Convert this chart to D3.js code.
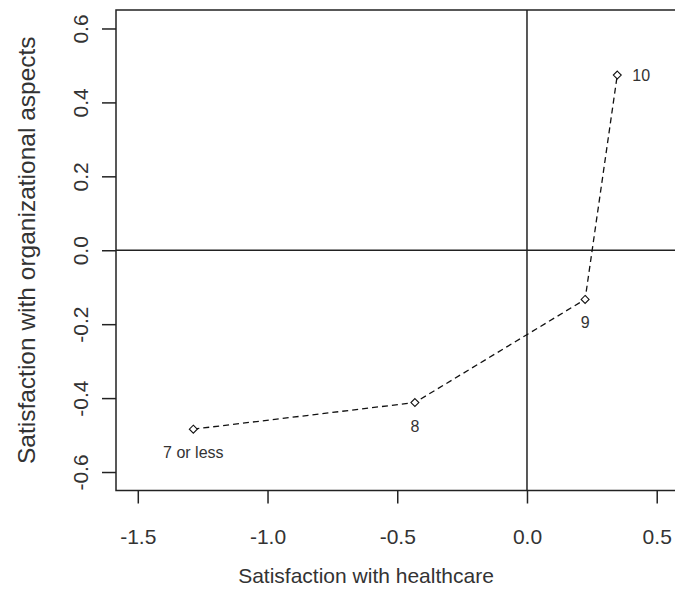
<!doctype html>
<html lang="en">

<head>
    <meta charset="utf-8">
    <title>satisfaction plot</title>
    <script src="https://cdn.jsdelivr.net/npm/d3@7"></script>
    <style>
        body { margin: 0; background: #fff; }
        svg { display: block; }
        text { font-family: "Liberation Sans", Arial, sans-serif; fill: #333; }
    </style>
</head>

<body>
    <svg></svg>
    <script>
        var width = 675;
        var height = 602;

        // data
        var labels = ["7 or less", "8", "9", "10"];
        var healthcare = [-1.286, -0.432, 0.224, 0.348];
        var organizational = [-0.484, -0.412, -0.133, 0.474];
        var labelPos = ["below", "below", "below", "right"];

        var xTicks = [-1.5, -1.0, -0.5, 0.0, 0.5];
        var yTicks = [-0.6, -0.4, -0.2, 0.0, 0.2, 0.4, 0.6];

        var dataset = labels.map(function (d, i) {
            return { label: d, x: healthcare[i], y: organizational[i], pos: labelPos[i] };
        });

        // plot box (right side runs off the picture)
        var boxL = 116, boxR = 685, boxT = 10, boxB = 490.5;

        var svg = d3.select('svg').attr('width', width).attr('height', height);

        var xScale = d3.scaleLinear().domain([-1.584, 0.609]).range([boxL, boxR]);
        var yScale = d3.scaleLinear().domain([-0.65, 0.65]).range([boxB, boxT]);

        var ink = "#222";
        var fmt = function (d) { return d3.format(".1f")(d).replace("\u2212", "-"); };

        //box
        svg.append("rect")
            .attr("x", boxL).attr("y", boxT)
            .attr("width", boxR - boxL).attr("height", boxB - boxT)
            .attr("fill", "none").attr("stroke", ink).attr("stroke-width", 1.5);

        //reference lines through zero
        svg.append("line")
            .attr("x1", boxL).attr("x2", boxR)
            .attr("y1", yScale(0)).attr("y2", yScale(0))
            .attr("stroke", ink).attr("stroke-width", 1.5);
        svg.append("line")
            .attr("x1", xScale(0)).attr("x2", xScale(0))
            .attr("y1", boxT).attr("y2", boxB)
            .attr("stroke", ink).attr("stroke-width", 1.5);

        var xAxis = d3.axisBottom(xScale)
            .tickValues(xTicks)
            .tickSize(13)
            .tickSizeOuter(0)
            .tickFormat(fmt);

        var yAxis = d3.axisLeft(yScale)
            .tickValues(yTicks)
            .tickSize(14)
            .tickSizeOuter(0)
            .tickFormat(fmt);

        var gx = svg.append('g')
            .attr('transform', 'translate(0, ' + boxB + ')')
            .call(xAxis);
        gx.select(".domain").remove();
        gx.selectAll("line").attr("stroke", ink).attr("stroke-width", 1.5);
        gx.selectAll("text")
            .attr("y", 53.5).attr("dy", null)
            .attr("fill", "#333").style("font-size", "21px")
            .style("font-family", '"Liberation Sans", Arial, sans-serif');

        var gy = svg.append('g')
            .attr('transform', 'translate(' + boxL + ', 0)')
            .call(yAxis);
        gy.select(".domain").remove();
        gy.selectAll("line").attr("stroke", ink).attr("stroke-width", 1.5);
        gy.selectAll("text")
            .attr("x", null).attr("dy", null)
            .attr("text-anchor", "middle")
            .attr("transform", "translate(-28,0) rotate(-90)")
            .attr("y", 0)
            .attr("fill", "#333").style("font-size", "21px")
            .style("font-family", '"Liberation Sans", Arial, sans-serif');

        //dashed path through the points
        var line = d3.line()
            .x(function (d) { return xScale(d.x); })
            .y(function (d) { return yScale(d.y); });

        svg.append("path")
            .datum(dataset)
            .attr("d", line)
            .attr("fill", "none")
            .attr("stroke", "#111")
            .attr("stroke-width", 1.3)
            .attr("stroke-dasharray", "6,4");

        svg.selectAll(".pt")
            .data(dataset)
            .enter()
            .append("path")
            .attr("class", "pt")
            .attr("d", d3.symbol().type(d3.symbolDiamond2).size(40))
            .attr("transform", function (d) { return "translate(" + xScale(d.x) + "," + yScale(d.y) + ")"; })
            .attr("fill", "#fff")
            .attr("stroke", "#111")
            .attr("stroke-width", 1.1);

        svg.selectAll(".lbl")
            .data(dataset)
            .enter()
            .append("text")
            .attr("class", "lbl")
            .attr("x", function (d) { return d.pos == "right" ? xScale(d.x) + 15 : xScale(d.x); })
            .attr("y", function (d) { return d.pos == "right" ? yScale(d.y) + 6 : yScale(d.y) + 29; })
            .attr("text-anchor", function (d) { return d.pos == "right" ? "start" : "middle"; })
            .style("font-size", "16px")
            .text(function (d) { return d.label; });

        //axis titles
        svg.append("text")
            .attr("x", 366)
            .attr("y", 583)
            .attr("text-anchor", "middle")
            .style("font-size", "21px")
            .text("Satisfaction with healthcare");

        svg.append("text")
            .attr("transform", "translate(34.5," + ((boxT + boxB) / 2) + ") rotate(-90)")
            .attr("text-anchor", "middle")
            .style("font-size", "24.5px")
            .text("Satisfaction with organizational aspects");
    </script>

</body>

</html>
